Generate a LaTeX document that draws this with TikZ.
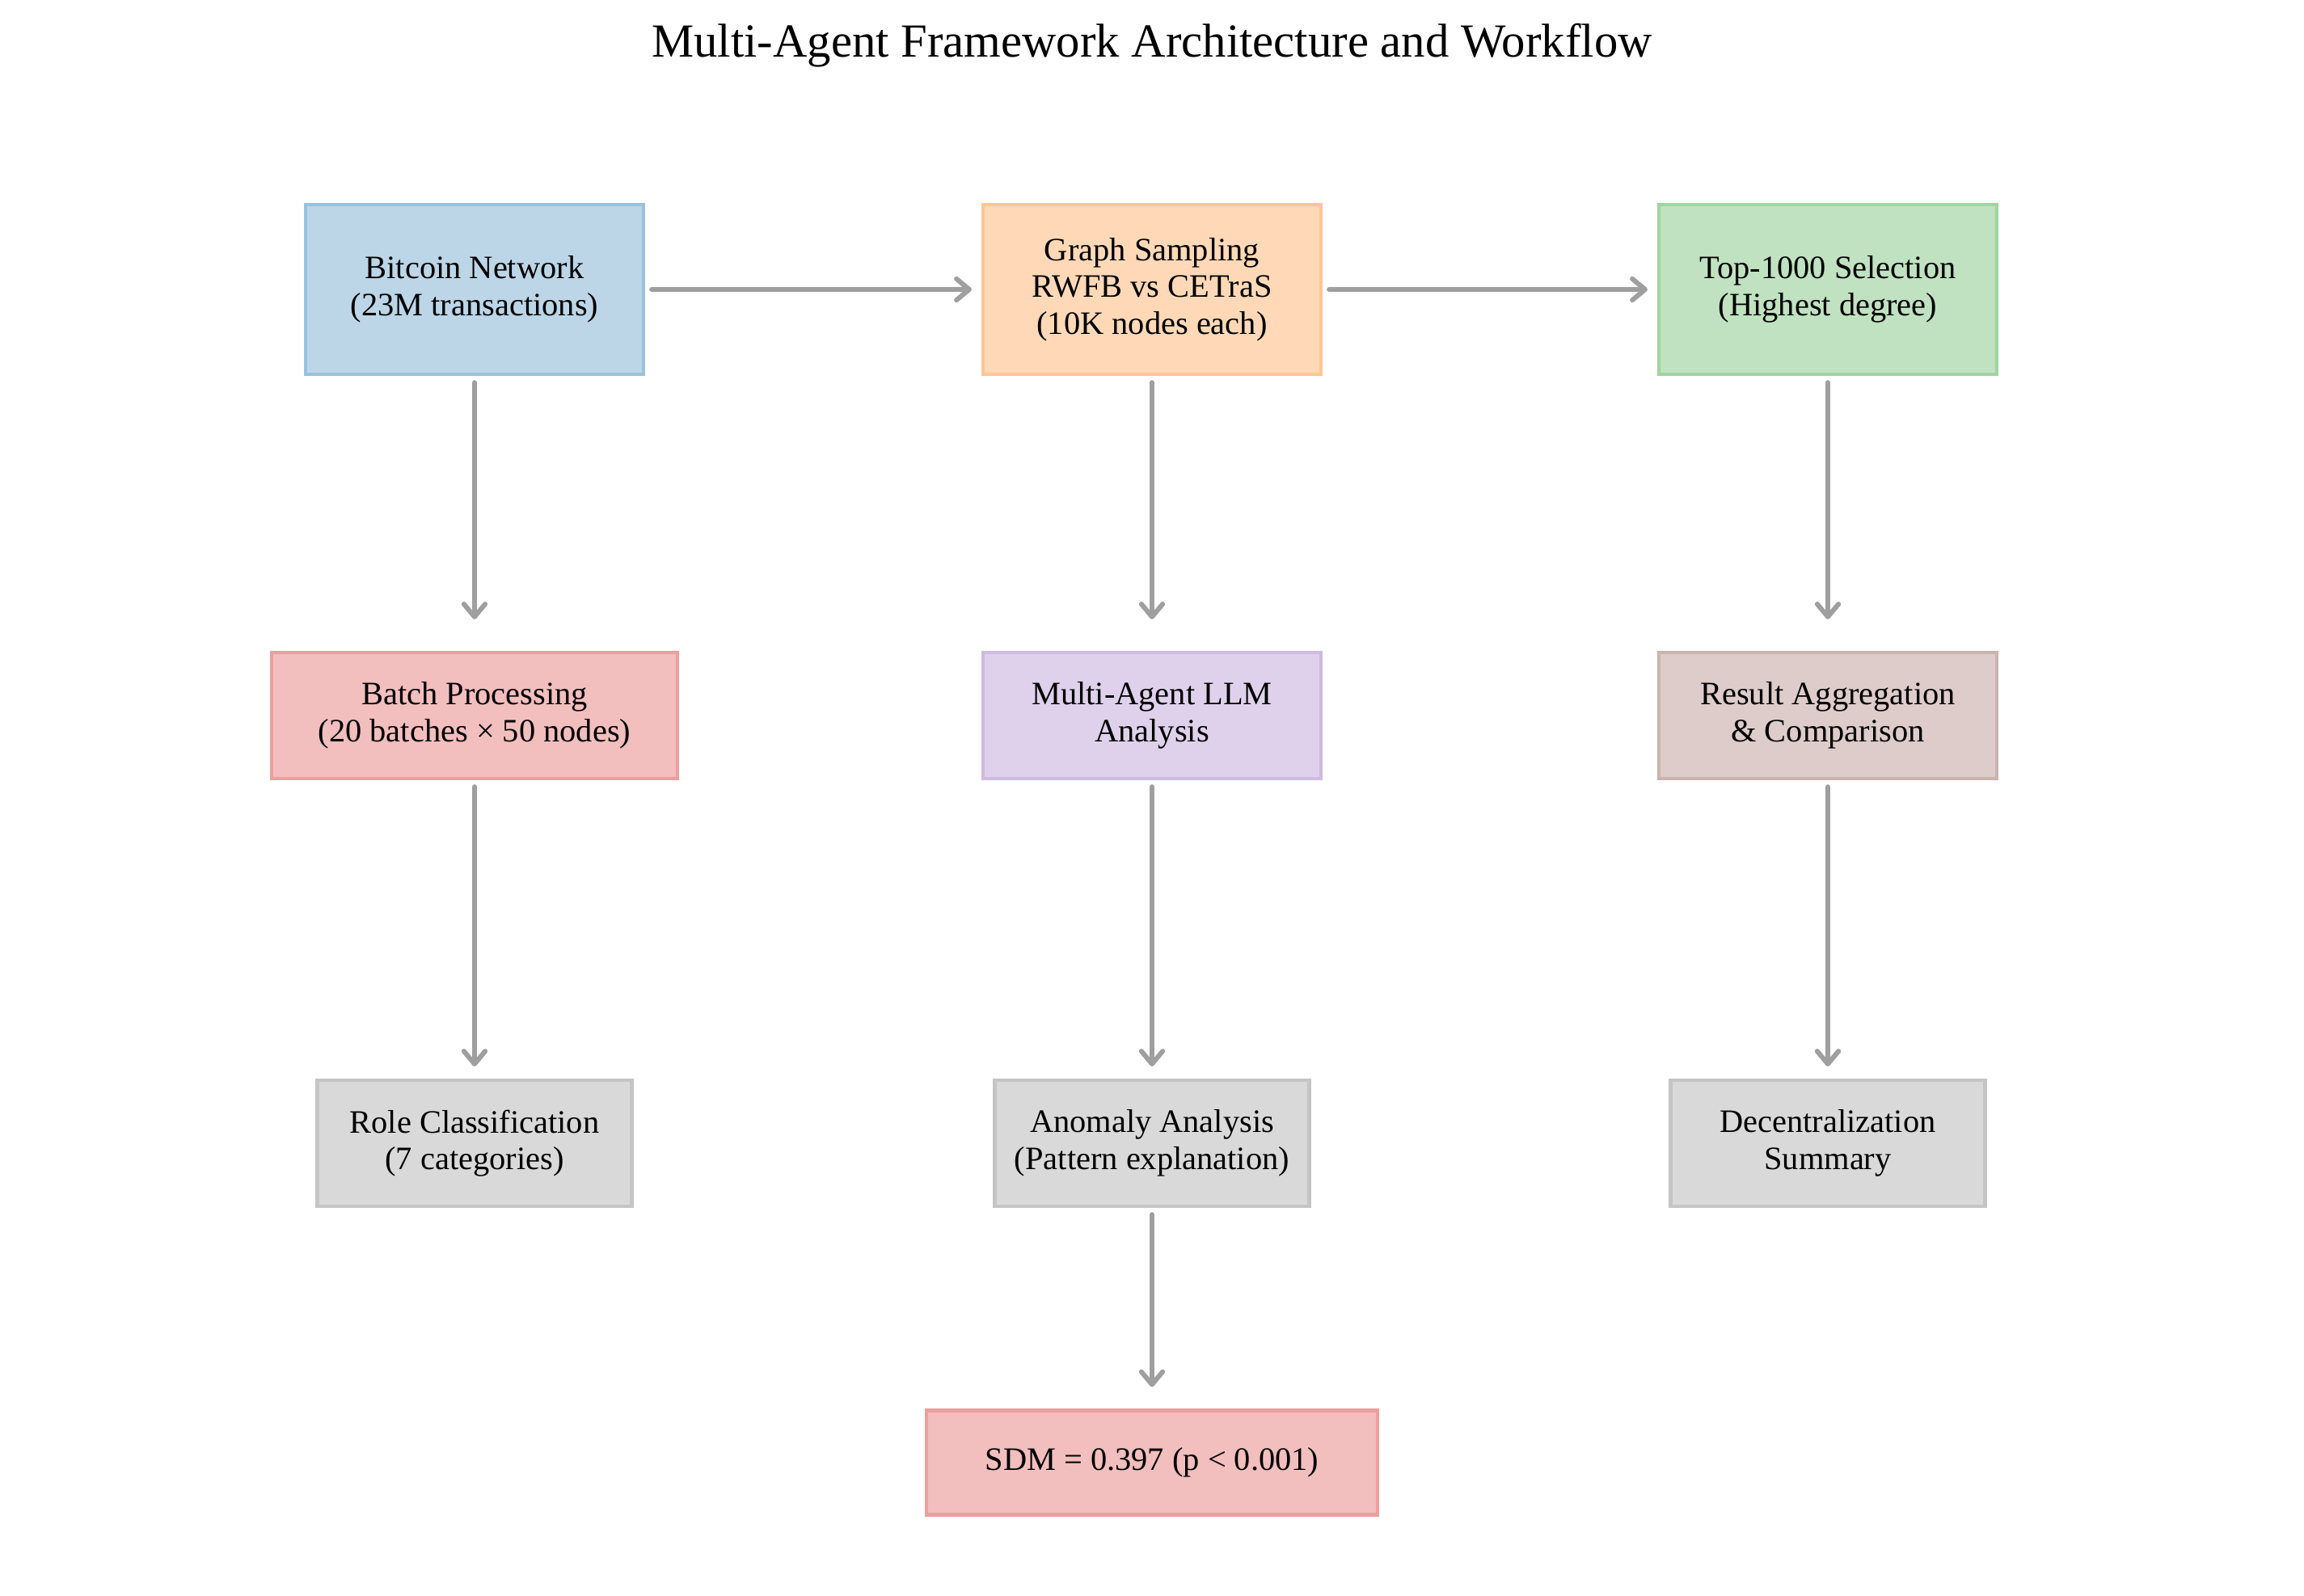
\documentclass[tikz,border=0pt]{standalone}
\usepackage{fontspec}
\setmainfont{Liberation Serif}
\usepackage{xcolor}
\usetikzlibrary{arrows.meta,positioning}
\definecolor{tabblue}{HTML}{1F77B4}
\definecolor{taborange}{HTML}{FF7F0E}
\definecolor{tabgreen}{HTML}{2CA02C}
\definecolor{tabred}{HTML}{D62728}
\definecolor{tabpurple}{HTML}{9467BD}
\definecolor{tabbrown}{HTML}{8C564B}
\definecolor{tabgray}{HTML}{7F7F7F}
\definecolor{flowgray}{HTML}{9F9F9F}

\begin{document}
\begin{tikzpicture}[>={Straight Barb[length=4.5pt,width=7.5pt,round]},
  box/.style={draw=#1!45, fill=#1!30, line width=1.2pt, align=center,
    font=\fontsize{11.5}{13}\selectfont, inner sep=0pt,
    minimum width=4.18cm, minimum height=1.56cm},
  flow/.style={->, line width=1.7pt, flowgray, line cap=round,
    shorten <=0.08cm}]
\useasboundingbox (0,0) rectangle (28.5,-19.73);
\node (title) at (14.25,-0.56) {\fontsize{16.7}{20}\selectfont Multi-Agent Framework Architecture and Workflow};

\node[box=tabblue, minimum height=2.10cm] (net) at (5.87,-3.58) {Bitcoin Network\\(23M transactions)};
\node[box=taborange, minimum height=2.10cm] (samp) at (14.25,-3.58) {Graph Sampling\\RWFB vs CETraS\\(10K nodes each)};
\node[box=tabgreen, minimum height=2.10cm] (top) at (22.61,-3.58) {Top-1000 Selection\\(Highest degree)};

\node[box=tabred, minimum width=5.02cm] (batch) at (5.87,-8.85) {Batch Processing\\(20 batches × 50 nodes)};
\node[box=tabpurple] (llm) at (14.25,-8.85) {Multi-Agent LLM\\Analysis};
\node[box=tabbrown] (agg) at (22.61,-8.85) {Result Aggregation\\\& Comparison};

\node[box=tabgray, minimum width=3.89cm] (role) at (5.87,-14.14) {Role Classification\\(7 categories)};
\node[box=tabgray, minimum width=3.89cm] (anom) at (14.25,-14.14) {Anomaly Analysis\\(Pattern explanation)};
\node[box=tabgray, minimum width=3.89cm] (dec) at (22.61,-14.14) {Decentralization\\Summary};

\node[box=tabred, minimum width=5.58cm, minimum height=1.29cm] (sdm) at (14.25,-18.09) {SDM = 0.397 (p < 0.001)};

\foreach \a/\b/\gap in {net/samp/0.12, samp/top/0.12, net/batch/0.39, samp/llm/0.39, top/agg/0.39,
  batch/role/0.15, llm/anom/0.15, agg/dec/0.15, anom/sdm/0.27}
  \draw[flow, shorten >=\gap cm] (\a) -- (\b);
\end{tikzpicture}
\end{document}
